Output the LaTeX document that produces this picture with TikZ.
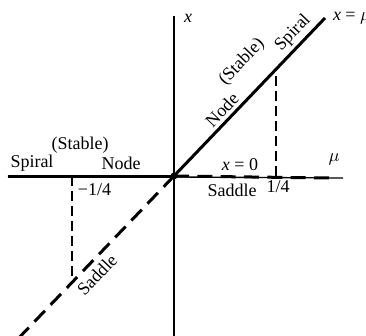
\documentclass[tikz,border=0pt]{standalone}
\usepackage{fontspec}
\setmainfont{Liberation Serif}
\begin{document}
\begin{tikzpicture}[x=0.6pt,y=0.6pt,
  thinaxis/.style={line width=0.8pt},
  thickline/.style={line width=1.8pt},
  thickdash/.style={line width=1.8pt,dash pattern=on 9pt off 5pt},
  thindash/.style={line width=0.8pt,dash pattern=on 6pt off 3pt},
  lbl/.style={font=\fontsize{10.8}{12}\selectfont,inner sep=1pt},
  dlbl/.style={lbl,rotate=46.3}]
\useasboundingbox (-174,-159) rectangle (192,176);
\coordinate (O) at (0,0);
\coordinate (L) at (-166,0);
\coordinate (R) at (169,-2);
\coordinate (Rd) at (156,-2);
\coordinate (T) at (0,160);
\coordinate (B) at (0,-165);
\coordinate (UR) at (151,158);
\coordinate (LL) at (-160,-167);
\coordinate (P) at (102,0);
\coordinate (Pt) at (102,107);
\coordinate (M) at (-102,0);
\coordinate (Mb) at (-102,-107);
% axes
\draw[thinaxis] (L) -- (R);
\draw[thinaxis] (B) -- (T);
% branches
\draw[thickline] (L) -- (O);
\draw[thickdash] (O) -- (Rd);
\draw[thickline] (O) -- (UR);
\draw[thickdash] (O) -- (LL);
\draw[thindash] (P) -- (Pt);
\draw[thindash] (M) -- (Mb);
\fill (O) circle (3.5);
% labels
\node[lbl] (xl) at (14,158) {\textit{x}};
\node[lbl,anchor=west] (xmu) at (157,158) {\textit{x} = $\mu$};
\node[lbl] (st1) at (-94,31) {(Stable)};
\node[lbl] (sp1) at (-142,13) {Spiral};
\node[lbl] (nd1) at (-53,13) {Node};
\node[lbl] (x0) at (66,11) {\textit{x} = 0};
\node[lbl] (mu) at (160,17) {$\mu$};
\node[lbl,anchor=west] (m14) at (-98,-14) {−1/4};
\node[lbl] (sd1) at (58,-14) {Saddle};
\node[lbl] (p14) at (104,-11) {1/4};
\node[dlbl] (sd2) at (-77,-99) {Saddle};
\node[dlbl] (nd2) at (48,66) {Node};
\node[dlbl] (st2) at (68,114) {(Stable)};
\node[dlbl] (sp2) at (119,143) {Spiral};
\end{tikzpicture}
\end{document}
